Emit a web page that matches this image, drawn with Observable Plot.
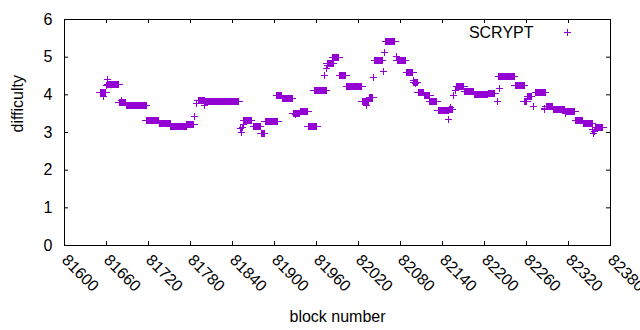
<!DOCTYPE html>
<html><head><meta charset="utf-8">
<script src="https://cdn.jsdelivr.net/npm/d3@7"></script>
<script src="https://cdn.jsdelivr.net/npm/@observablehq/plot@0.6"></script>
<style>body{margin:0;background:#fff}</style>
</head><body><div id="chart"></div>
<script>
// Runs of consecutive blocks sharing (about) the same difficulty
const runStart = [81651,81662,81678,81689,81717,81736,81752,81774,81791,81802,81856,81870,81881,81887,81903,81911,81927,81937,81948,81957,81975,81983,81993,82003,82025,82036,82043,82059,82075,82089,82099,82105,82114,82122,82134,82150,82160,82172,82185,82205,82220,82244,82257,82262,82273,82288,82298,82316,82330,82341,82359];
const runEnd   = [81660,81679,81688,81718,81736,81753,81775,81786,81802,81850,81868,81881,81887,81906,81911,81927,81937,81949,81962,81975,81985,81993,82003,82026,82036,82042,82055,82073,82088,82099,82105,82114,82123,82133,82150,82155,82172,82185,82205,82216,82244,82258,82262,82268,82288,82298,82316,82330,82341,82355,82370];
const runDiff  = [4.05,4.27,3.80,3.73,3.31,3.23,3.17,3.20,3.85,3.81,3.33,3.15,2.97,3.30,3.97,3.89,3.50,3.55,3.17,4.11,4.84,5.00,4.52,4.21,3.82,3.93,4.92,5.42,4.92,4.60,4.32,4.07,3.99,3.81,3.58,3.62,4.22,4.10,4.01,4.03,4.48,4.25,3.82,3.95,4.05,3.68,3.60,3.56,3.31,3.23,3.12];
// Isolated blocks
const pointBlock = [81656,81662,81660,81681,81786,81788,81800,81851,81853,81854,81855,81930,81971,81974,81975,82032,82042,82055,82057,82074,82098,82101,82149,82152,82156,82158,82218,82222,82270,82285,82286,82316,82354,82356,82357];
const pointDiff  = [3.96,4.40,4.25,3.85,3.42,3.76,3.72,3.10,3.00,3.14,3.22,3.47,4.51,4.69,4.78,3.72,4.47,4.62,5.12,5.03,4.38,4.31,3.34,3.66,3.98,4.12,3.81,4.16,3.70,3.63,3.60,3.50,3.07,2.98,3.03];

const xTicks = [81600,81660,81720,81780,81840,81900,81960,82020,82080,82140,82200,82260,82320,82380];
const yTicks = [0,1,2,3,4,5,6];
const seriesName = "SCRYPT";
const xLabel = "block number";
const yLabel = "difficulty";

const runs = runStart.map((s, i) => ({start: s, end: runEnd[i], diff: runDiff[i]}));
const points = pointBlock.map((b, i) => ({block: b, diff: pointDiff[i]}));

const color = "#9400d3";
const font = "'Liberation Sans', Arial, sans-serif";
const W = 640, H = 330, mL = 64, mR = 30, mT = 19, mB = 85;
const pw = W - mL - mR, ph = H - mT - mB, tick = 4, arm = 3.5;
const plus = {draw(ctx) { ctx.moveTo(-arm, 0); ctx.lineTo(arm, 0); ctx.moveTo(0, -arm); ctx.lineTo(0, arm); }};

const chart = Plot.plot({
  width: W, height: H,
  marginLeft: mL, marginRight: mR, marginTop: mT, marginBottom: mB,
  style: {fontFamily: font, fontSize: "16px", background: "#fff"},
  x: {domain: [81600, 82380], axis: null},
  y: {domain: [0, 6], axis: null},
  marks: [
    Plot.ruleX(xTicks, {insetTop: ph - tick, stroke: "black"}),
    Plot.ruleX(xTicks, {insetBottom: ph - tick, stroke: "black"}),
    Plot.ruleY(yTicks, {insetRight: pw - tick, stroke: "black"}),
    Plot.ruleY(yTicks, {insetLeft: pw - tick, stroke: "black"}),
    Plot.frame({stroke: "black"}),
    Plot.ruleY(runs, {y: "diff", x1: "start", x2: "end", stroke: color, strokeWidth: 2 * arm, shapeRendering: "crispEdges"}),
    Plot.ruleY(runs, {y: "diff", x1: "start", x2: "end", stroke: color, strokeWidth: 1, insetLeft: -arm, insetRight: -arm, shapeRendering: "crispEdges"}),
    Plot.dot(points, {x: "block", y: "diff", symbol: plus, fill: "none", stroke: color, strokeWidth: 1, shapeRendering: "crispEdges"}),
    Plot.text(yTicks, {y: d => d, frameAnchor: "left", dx: -12, textAnchor: "end", text: d => String(d), fontSize: 16, fill: "black"}),
    Plot.text(xTicks, {x: d => d, frameAnchor: "bottom", dy: 12, rotate: 45, textAnchor: "start", lineAnchor: "middle", text: d => String(d), fontSize: 16, fill: "black"}),
    Plot.text([xLabel], {frameAnchor: "bottom", dy: 71, lineAnchor: "middle", text: d => d, fontSize: 16, fill: "black"}),
    Plot.text([yLabel], {frameAnchor: "left", dx: -47, rotate: -90, lineAnchor: "middle", text: d => d, fontSize: 16, fill: "black"}),
    Plot.text([seriesName], {frameAnchor: "top-left", dx: 469, dy: 13, textAnchor: "end", lineAnchor: "middle", text: d => d, fontSize: 16, fill: "black"}),
    Plot.dot([seriesName], {frameAnchor: "top-left", dx: 503, dy: 13, symbol: plus, fill: "none", stroke: color, strokeWidth: 1, shapeRendering: "crispEdges"})
  ]
});
document.getElementById("chart").appendChild(chart);
</script>
</body></html>
